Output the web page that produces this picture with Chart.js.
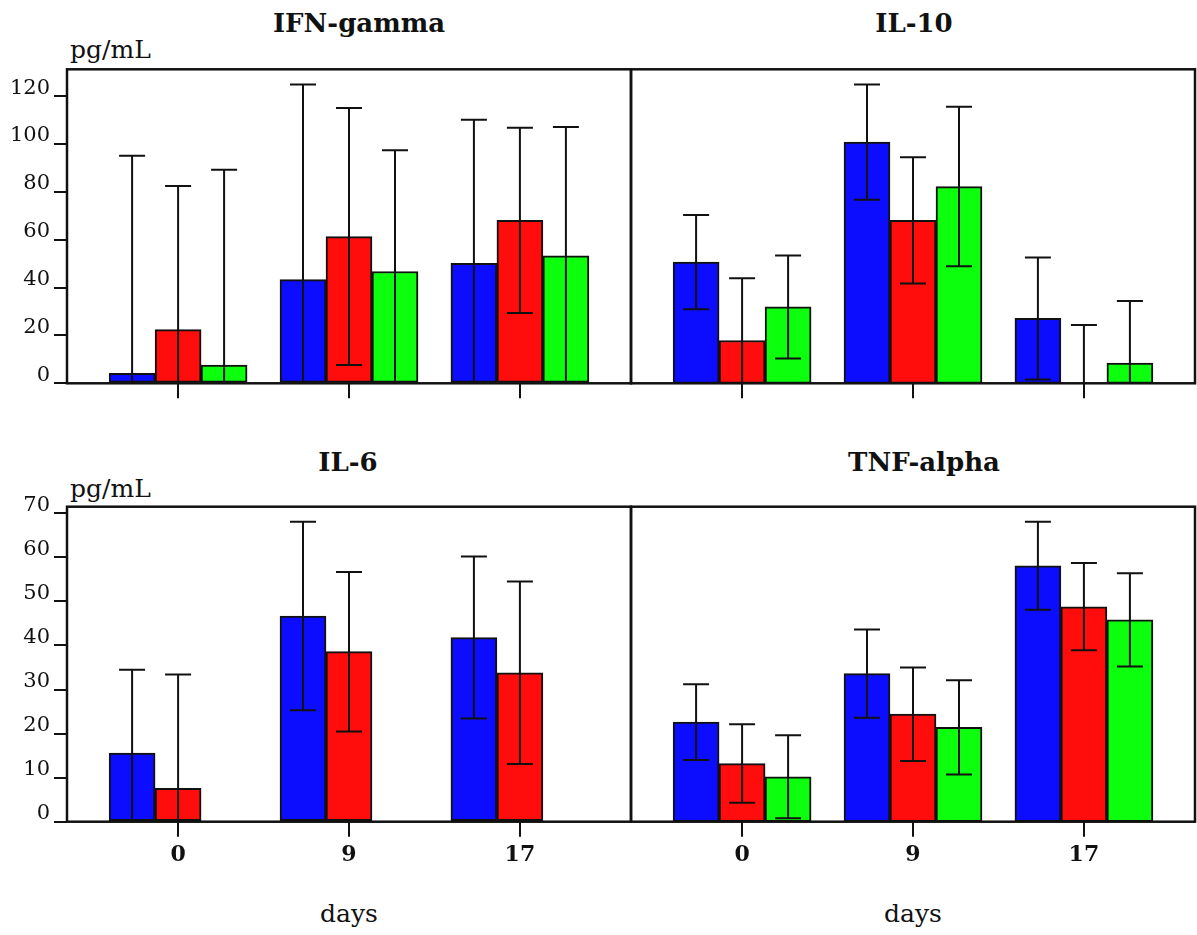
<!DOCTYPE html>
<html>
<head>
<meta charset="utf-8">
<title>Cytokines by day</title>
<script src="https://cdn.jsdelivr.net/npm/chart.js@4.4.1/dist/chart.umd.min.js"></script>
<style>
  body { margin: 0; background: #fff; width: 1197px; height: 935px; position: relative; overflow: hidden;
         font-family: "DejaVu Serif", serif; color: #111; }
  canvas { position: absolute; }
  .title { position: absolute; font-weight: bold; font-size: 26px; line-height: 1; white-space: nowrap; transform: translateX(-50%); }
  .unit { position: absolute; font-size: 25px; line-height: 1; white-space: nowrap; }
  .xname { position: absolute; font-size: 25px; line-height: 1; white-space: nowrap; transform: translateX(-50%); }
</style>
</head>
<body>
<div class="title" style="left:359px; top:10px">IFN-gamma</div>
<div class="title" style="left:914px; top:10px">IL-10</div>
<div class="unit" style="left:70px; top:37px">pg/mL</div>
<div class="title" style="left:348px; top:449px">IL-6</div>
<div class="title" style="left:924px; top:449px">TNF-alpha</div>
<div class="unit" style="left:70px; top:476px">pg/mL</div>
<div class="xname" style="left:349px; top:901px">days</div>
<div class="xname" style="left:913px; top:901px">days</div>

<canvas id="ifn" width="640" height="360" style="left:0; top:60px"></canvas>
<canvas id="il10" width="577" height="360" style="left:620px; top:60px"></canvas>
<canvas id="il6" width="640" height="380" style="left:0; top:495px"></canvas>
<canvas id="tnf" width="577" height="380" style="left:620px; top:495px"></canvas>

<script>
// ─── Data (pg/mL, mean and SD) ────────────────────────────────────────────────

const DAYS = ['0', '9', '17'];
const SERIES_COLORS = ['#0c0cff', '#ff0c0c', '#0cff0c'];

const ifnBlue = [4.2, 43.3, 50.1];
const ifnRed = [22.4, 61.3, 68.1];
const ifnGreen = [7.6, 46.7, 53.3];
const ifnBlueSd = [90.9, 81.6, 60.0];
const ifnRedSd = [60.0, 53.7, 38.7];
const ifnGreenSd = [81.6, 50.7, 53.8];

const il10Blue = [50.6, 100.8, 27.1];
const il10Red = [17.9, 68.1, 0];
const il10Green = [31.9, 82.2, 8.5];
const il10BlueSd = [19.7, 24.1, 25.5];
const il10RedSd = [26.0, 26.4, 24.4];
const il10GreenSd = [21.5, 33.3, 25.9];

const il6Blue = [15.6, 46.7, 41.8];
const il6Red = [7.6, 38.6, 33.8];
const il6Green = [null, null, null];
const il6BlueSd = [18.9, 21.4, 18.4];
const il6RedSd = [25.8, 18.1, 20.7];
const il6GreenSd = [null, null, null];

const tnfBlue = [22.6, 33.6, 58.1];
const tnfRed = [13.2, 24.4, 48.8];
const tnfGreen = [10.2, 21.4, 45.8];
const tnfBlueSd = [8.6, 10.0, 10.0];
const tnfRedSd = [8.9, 10.6, 9.9];
const tnfGreenSd = [9.4, 10.7, 10.6];

// y axis ranges (top row shares one scale, bottom row another)
const TOP_MAX = 131.2;
const TOP_STEP = 20;
const BOTTOM_MAX = 71.5;
const BOTTOM_STEP = 10;

// ─── Plugins ──────────────────────────────────────────────────────────────────

// symmetric SD whiskers, clipped to the plot box, then the box itself
const errorBars = {
  id: 'errorBars',
  afterDatasetsDraw(chart) {
    const { ctx, chartArea } = chart;
    const y = chart.scales.y;
    ctx.save();
    ctx.strokeStyle = '#111';
    ctx.lineWidth = 2;
    chart.data.datasets.forEach((ds, di) => {
      chart.getDatasetMeta(di).data.forEach((bar, i) => {
        const m = ds.data[i].y;
        const sd = ds.sd[i];
        if (m == null || sd == null) return;
        const hi = y.getPixelForValue(m + sd);
        const lo = y.getPixelForValue(m - sd);
        ctx.beginPath();
        ctx.moveTo(bar.x, Math.max(hi, chartArea.top));
        ctx.lineTo(bar.x, Math.min(lo, chartArea.bottom));
        if (hi >= chartArea.top) {
          ctx.moveTo(bar.x - 13, hi);
          ctx.lineTo(bar.x + 13, hi);
        }
        if (lo <= chartArea.bottom - 1) {
          ctx.moveTo(bar.x - 13, lo);
          ctx.lineTo(bar.x + 13, lo);
        }
        ctx.stroke();
      });
    });
    ctx.lineWidth = 2.5;
    ctx.strokeRect(chartArea.left, chartArea.top, chartArea.width, chartArea.height);
    ctx.restore();
  },
};

// ─── Panels ───────────────────────────────────────────────────────────────────

function makeDatasets(means, sds) {
  return means.map((vals, s) => ({
    data: vals.map((v, i) => ({ x: i, y: v })),
    sd: sds[s],
    backgroundColor: SERIES_COLORS[s],
    borderColor: '#111',
    borderWidth: 2,
    borderSkipped: false,
    barThickness: 46,
  }));
}

function makePanel(id, means, sds, cfg) {
  return new Chart(document.getElementById(id), {
    type: 'bar',
    data: { datasets: makeDatasets(means, sds) },
    plugins: [errorBars],
    options: {
      responsive: false,
      animation: false,
      layout: { padding: cfg.padding },
      plugins: { legend: { display: false }, tooltip: { enabled: false } },
      scales: {
        x: {
          type: 'linear',
          offset: false,
          min: -0.65,
          max: 2.65,
          afterBuildTicks: s => { s.ticks = DAYS.map((d, i) => ({ value: i })); },
          afterFit: s => {
            s.height = cfg.xHeight;
            s.paddingLeft = 0;
            s.paddingRight = 0;
          },
          border: { display: false },
          grid: { offset: false, drawOnChartArea: false, tickLength: 15, color: '#111', lineWidth: 2 },
          ticks: {
            display: cfg.xLabels,
            callback: v => DAYS[v],
            maxRotation: 0,
            padding: 5,
            color: '#111',
            font: { family: 'DejaVu Serif', size: 22, weight: 'bold' },
          },
        },
        y: {
          display: cfg.yAxis,
          min: 0,
          max: cfg.yMax,
          afterFit: s => {
            s.width = cfg.yAxis ? 67 : 0;
            s.paddingTop = 0;
            s.paddingBottom = 0;
          },
          border: { display: false },
          grid: { drawOnChartArea: false, tickLength: 13, color: '#111', lineWidth: 2 },
          ticks: {
            stepSize: cfg.step,
            includeBounds: false,
            labelOffset: -8,
            padding: 4,
            color: '#111',
            font: { family: 'DejaVu Serif', size: 21 },
          },
        },
      },
    },
  });
}

makePanel('ifn', [ifnBlue, ifnRed, ifnGreen], [ifnBlueSd, ifnRedSd, ifnGreenSd], {
  padding: { left: 0, top: 9.3, right: 9, bottom: 0 }, xHeight: 36.7,
  xLabels: false, yAxis: true, yMax: TOP_MAX, step: TOP_STEP,
});
makePanel('il10', [il10Blue, il10Red, il10Green], [il10BlueSd, il10RedSd, il10GreenSd], {
  padding: { left: 11, top: 9.3, right: 2, bottom: 0 }, xHeight: 36.7,
  xLabels: false, yAxis: false, yMax: TOP_MAX, step: TOP_STEP,
});
makePanel('il6', [il6Blue, il6Red, il6Green], [il6BlueSd, il6RedSd, il6GreenSd], {
  padding: { left: 0, top: 11.7, right: 9, bottom: 0 }, xHeight: 53.3,
  xLabels: true, yAxis: true, yMax: BOTTOM_MAX, step: BOTTOM_STEP,
});
makePanel('tnf', [tnfBlue, tnfRed, tnfGreen], [tnfBlueSd, tnfRedSd, tnfGreenSd], {
  padding: { left: 11, top: 11.7, right: 2, bottom: 0 }, xHeight: 53.3,
  xLabels: true, yAxis: false, yMax: BOTTOM_MAX, step: BOTTOM_STEP,
});
</script>
</body>
</html>
